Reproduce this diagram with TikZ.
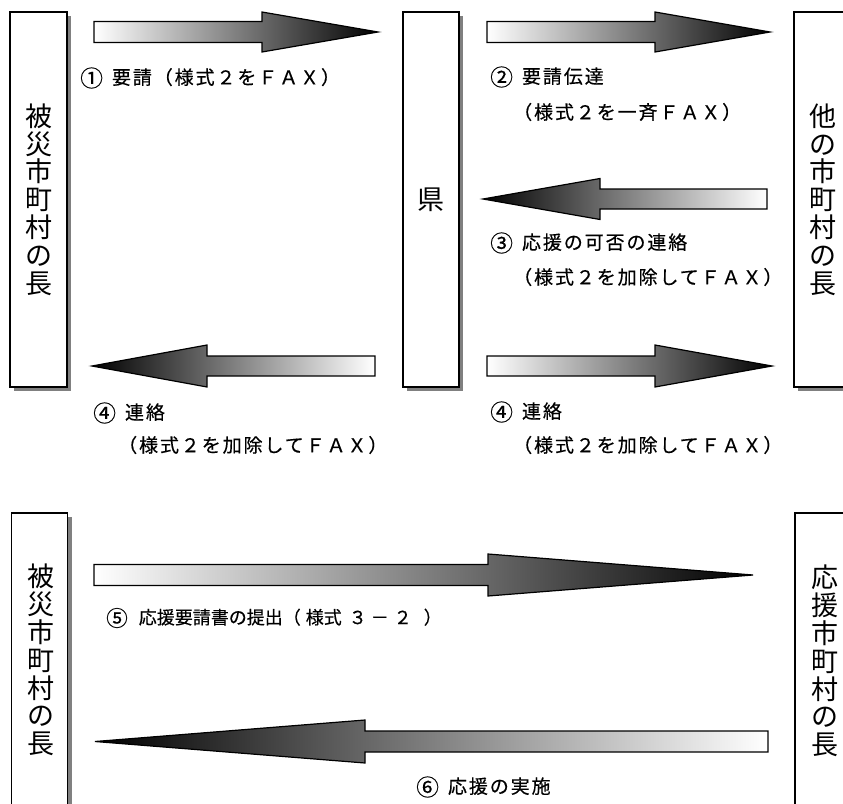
\documentclass[tikz,border=0pt]{standalone}
\usepackage{fontspec}
\newfontfamily\jp{Noto Sans CJK JP}
\newfontfamily\jpls[LetterSpace=10,FakeBold=0.4]{Noto Sans CJK JP}
\newfontfamily\jpn[FakeBold=0.4]{Noto Sans CJK JP}
\usetikzlibrary{shadows}
\newcommand\cnum[1]{\raisebox{-0.12em}{\scalebox{1.2}{#1}}}
\tikzset{
  orgbox/.style={draw=black, line width=1.3pt, fill=white, inner sep=0pt,
    drop shadow={shadow xshift=4pt, shadow yshift=-4pt, fill=gray, opacity=1},
    align=center, font=\jp\fontsize{27}{27.8}\selectfont},
  vtext/.style={inner sep=0pt, align=center, font=\jp\fontsize{27}{27.8}\selectfont},
  arrowsty/.style={draw=black, line width=1.2pt, line join=miter},
  lab/.style={anchor=west, inner sep=0pt, font=\jpls\fontsize{19}{22}\selectfont},
  labn/.style={anchor=west, inner sep=0pt, font=\jpn\fontsize{18}{22}\selectfont}
}
% right-pointing block arrow: tail x, head-base x, tip x, centre y, half shaft, half head
\newcommand\blockR[6]{%
  \shadedraw[arrowsty, left color=white, right color=black]
    (#1,#4-#5) -- (#2,#4-#5) -- (#2,#4-#6) -- (#3,#4) -- (#2,#4+#6)
    -- (#2,#4+#5) -- (#1,#4+#5) -- cycle;}
% left-pointing block arrow: tail x, head-base x, tip x, centre y, half shaft, half head
\newcommand\blockL[6]{%
  \shadedraw[arrowsty, left color=black, right color=white]
    (#1,#4-#5) -- (#2,#4-#5) -- (#2,#4-#6) -- (#3,#4) -- (#2,#4+#6)
    -- (#2,#4+#5) -- (#1,#4+#5) -- cycle;}
\begin{document}
\begin{tikzpicture}[x=1pt,y=-1pt]
\useasboundingbox (0,0) rectangle (843,803);
\clip (0,0) rectangle (843,803);
\fill[white] (0,0) rectangle (843,803);

% ---- upper section boxes ----
\node[orgbox, minimum width=57pt, minimum height=375pt] (hisai1) at (38.5,199.5)
  {被\\災\\市\\町\\村\\の\\長};
\node[orgbox, minimum width=56pt, minimum height=375pt] (ken) at (431,199.5)
  {県};
\node[orgbox, minimum width=57pt, minimum height=375pt] (other) at (822.5,199.5)
  {他\\の\\市\\町\\村\\の\\長};

% ---- upper arrows ----
\blockR{94}{262}{378}{32}{10.5}{20}
\blockR{487}{655}{770}{32}{10.5}{20}
\blockL{767}{600}{483}{199}{10}{20.5}
\blockR{487}{655}{772}{366}{10}{21}
\blockL{375}{207}{92}{366}{10}{21}

% ---- upper labels ----
\node[lab] (l1) at (80,78) {\cnum{①}\hspace{9pt}要請（様式２をＦＡＸ）};
\node[lab] (l2a) at (490,77) {\cnum{②}\hspace{9pt}要請伝達};
\node[lab] (l2b) at (513,112) {（様式２を一斉ＦＡＸ）};
\node[lab] (l3a) at (490,243) {\cnum{③}\hspace{9pt}応援の可否の連絡};
\node[lab] (l3b) at (513,277) {（様式２を加除してＦＡＸ）};
\node[lab] (l4a) at (490,412) {\cnum{④}\hspace{9pt}連絡};
\node[lab] (l4b) at (513,445) {（様式２を加除してＦＡＸ）};
\node[lab] (l4c) at (93,413) {\cnum{④}\hspace{9pt}連絡};
\node[lab] (l4d) at (118,445) {（様式２を加除してＦＡＸ）};

% ---- lower section boxes ----
\node[orgbox, minimum width=56pt, minimum height=375pt] (hisai2) at (39.5,700.5) {};
\node[vtext] (hisai2t) at (41,660) {被\\災\\市\\町\\村\\の\\長};
\node[orgbox, minimum width=57pt, minimum height=375pt] (ouen) at (823.5,700.5) {};
\node[vtext] (ouent) at (825,661) {応\\援\\市\\町\\村\\の\\長};

% ---- lower arrows ----
\blockR{94}{488}{753}{575}{10.5}{21}
\blockL{768}{365}{95}{741.5}{10.5}{21.5}

% ---- lower labels ----
\node[labn] (l5) at (106,618) {\cnum{⑤}\hspace{11pt}応援要請書の提出（\hspace{5pt}様式\hspace{7pt}３\hspace{4pt}－\hspace{5pt}２\hspace{12pt}）};
\node[lab] (l6) at (416,787) {\cnum{⑥}\hspace{9pt}応援の実施};
\end{tikzpicture}
\end{document}
